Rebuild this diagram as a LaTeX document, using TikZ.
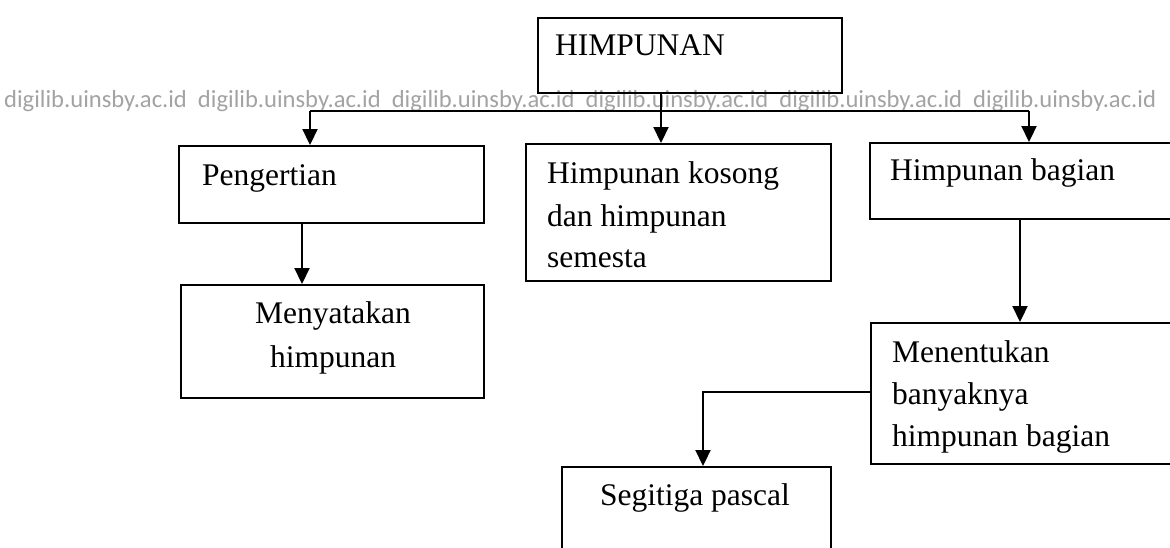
\documentclass[tikz,border=0pt]{standalone}
\usepackage{fontspec}
\setmainfont{Liberation Serif}
\newfontfamily\wmfont{Carlito}
\usetikzlibrary{arrows.meta}
\begin{document}
\begin{tikzpicture}[x=1pt,y=-1pt,
  box/.style={draw, line width=2.4pt, rectangle, inner sep=0pt, anchor=north west},
  lbl/.style={inner sep=0pt, anchor=base west, font=\fontsize{31.5}{42}\selectfont},
  clbl/.style={lbl, anchor=base},
  conn/.style={line width=2.2pt},
  arr/.style={conn, -{Triangle[length=16pt,width=15pt]}},
  wm/.style={inner sep=0pt, anchor=base west, text=black!36, font=\wmfont\fontsize{24.6}{26}\selectfont}]
\useasboundingbox (0,0) rectangle (1170,547);
\clip (0,0) rectangle (1170,547);
\fill[white] (0,0) rectangle (1170,547);

% watermark
\node[wm] (wmark) at (4,107) {digilib.uinsby.ac.id~~digilib.uinsby.ac.id~~digilib.uinsby.ac.id~~digilib.uinsby.ac.id~~digilib.uinsby.ac.id~~digilib.uinsby.ac.id};

% boxes
\node[box, minimum width=304pt, minimum height=75pt] (top) at (537,17) {};
\node[box, minimum width=305pt, minimum height=77pt] (peng) at (178,145) {};
\node[box, minimum width=303pt, minimum height=113pt] (meny) at (180,284) {};
\node[box, minimum width=305pt, minimum height=137pt] (mid) at (525,143) {};
\node[box, minimum width=330pt, minimum height=76pt] (hb) at (869,142) {};
\node[box, minimum width=330pt, minimum height=141pt] (men) at (870,322) {};
\node[box, minimum width=269pt, minimum height=120pt] (seg) at (561,466) {};

% texts
\node[lbl] (t0) at (555,55) {HIMPUNAN};
\node[lbl] (t1) at (202,185) {Pengertian};
\node[clbl] (t2a) at (333,323) {Menyatakan};
\node[clbl] (t2b) at (333,367) {himpunan};
\node[lbl] (t3a) at (547,183) {Himpunan kosong};
\node[lbl] (t3b) at (547,226) {dan himpunan};
\node[lbl] (t3c) at (547,267) {semesta};
\node[lbl] (t4) at (890,180) {Himpunan bagian};
\node[lbl] (t5a) at (892,362) {Menentukan};
\node[lbl] (t5b) at (892,404) {banyaknya};
\node[lbl] (t5c) at (892,446) {himpunan bagian};
\node[clbl] (t6) at (695,505) {Segitiga pascal};

% connectors
\coordinate (hub) at (661,111);
\coordinate (jl) at (310,111);
\coordinate (jr) at (1029,111);
\coordinate (c1) at (302,0);
\coordinate (c2) at (1020,0);
\coordinate (c3) at (0,392);
\coordinate (c4) at (703,0);
\draw[conn] (jl) -- (jr);
\draw[conn] (top.south -| hub) -- (hub);
\draw[arr] (hub) -- (hub |- mid.north);
\draw[arr] (jl) -- (jl |- peng.north);
\draw[arr] (jr) -- (jr |- hb.north);
\draw[arr] (peng.south -| c1) -- (meny.north -| c1);
\draw[arr] (hb.south -| c2) -- (men.north -| c2);
\draw[arr] (men.west |- c3) -| (seg.north -| c4);
\end{tikzpicture}
\end{document}
